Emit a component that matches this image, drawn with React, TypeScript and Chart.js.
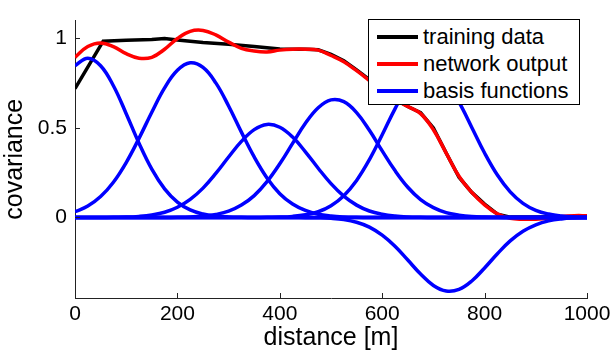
import React, { useEffect, useRef } from "react";
import { Chart, registerables } from "chart.js";

Chart.register(...registerables);

const DIST = [
  0, 25, 50, 75, 100, 125, 150, 175, 200, 225, 250, 275, 300, 325, 350, 375, 400, 425, 450, 475,
  500, 525, 550, 575, 600, 625, 650, 675, 700, 725, 750, 775, 800, 825, 850, 875, 900, 925, 950, 975, 1000,
];

const TRAIN_X = [0, 55, 100, 150, 175, 200, 250, 300, 350, 400, 450, 475, 500, 525, 550, 575, 600, 625, 650, 675, 700, 725, 750, 775, 800, 825, 850, 900, 950, 1000];
const TRAIN_Y = [0.72, 0.985, 0.99, 0.995, 1.0, 0.992, 0.978, 0.968, 0.955, 0.942, 0.94, 0.937, 0.912, 0.875, 0.825, 0.77, 0.71, 0.66, 0.62, 0.585, 0.5, 0.36, 0.225, 0.14, 0.075, 0.018, 0.002, 0.002, 0.004, 0.006];

const NET_OUT = [
  0.895, 0.955, 0.975, 0.955, 0.915, 0.89, 0.895, 0.94, 1.0, 1.04, 1.045, 1.02, 0.98, 0.945, 0.93, 0.925, 0.935, 0.94, 0.94, 0.935,
  0.905, 0.87, 0.82, 0.765, 0.71, 0.66, 0.62, 0.58, 0.49, 0.36, 0.23, 0.14, 0.07, 0.02, -0.005, -0.01, -0.01, -0.005, 0.005, 0.01, 0.01,
];

const BASIS_1 = [0.848, 0.89, 0.848, 0.736, 0.58, 0.415, 0.27, 0.16, 0.086, 0.042, 0.019, 0.008, 0.003, 0.001, 0, 0, 0, 0, 0, 0, 0, 0, 0, 0, 0, 0, 0, 0, 0, 0, 0, 0, 0, 0, 0, 0, 0, 0, 0, 0, 0];
const BASIS_2 = [0.032, 0.064, 0.117, 0.197, 0.307, 0.442, 0.588, 0.724, 0.822, 0.864, 0.838, 0.752, 0.623, 0.477, 0.338, 0.221, 0.133, 0.075, 0.039, 0.018, 0.008, 0.003, 0.001, 0, 0, 0, 0, 0, 0, 0, 0, 0, 0, 0, 0, 0, 0, 0, 0, 0, 0];
const BASIS_3 = [0, 0, 0, 0.001, 0.002, 0.006, 0.014, 0.029, 0.057, 0.101, 0.164, 0.246, 0.338, 0.425, 0.491, 0.52, 0.504, 0.449, 0.367, 0.275, 0.189, 0.119, 0.069, 0.036, 0.018, 0.008, 0.003, 0.001, 0, 0, 0, 0, 0, 0, 0, 0, 0, 0, 0, 0, 0];
const BASIS_4 = [0, 0, 0, 0, 0, 0, 0, 0, 0.001, 0.003, 0.007, 0.017, 0.035, 0.069, 0.122, 0.2, 0.3, 0.414, 0.526, 0.613, 0.657, 0.647, 0.586, 0.487, 0.372, 0.262, 0.169, 0.1, 0.055, 0.027, 0.013, 0.005, 0.002, 0.001, 0, 0, 0, 0, 0, 0, 0];
const BASIS_5 = [0, 0, 0, 0, 0, 0, 0, 0, 0, 0, 0, 0, 0, 0, 0, 0.001, 0.002, 0.006, 0.015, 0.032, 0.066, 0.122, 0.207, 0.323, 0.462, 0.607, 0.73, 0.806, 0.815, 0.757, 0.644, 0.503, 0.36, 0.237, 0.143, 0.079, 0.04, 0.019, 0.008, 0.003, 0.001];
const BASIS_6 = [0, 0, 0, 0, 0, 0, 0, 0, 0, 0, 0, 0, 0, 0, 0, 0, 0, 0, -0.001, -0.002, -0.005, -0.012, -0.027, -0.054, -0.099, -0.161, -0.238, -0.316, -0.38, -0.411, -0.402, -0.355, -0.282, -0.203, -0.131, -0.077, -0.041, -0.019, -0.008, -0.003, -0.001];
const BASIS_7 = [0, 0, 0, 0, 0, 0, 0, 0, 0, 0, 0, 0, 0, 0, 0, 0, 0, 0, 0, 0, 0, 0, 0, 0, 0, 0, 0, 0, 0, 0, 0, 0, 0, 0, 0, 0, 0, 0, 0, 0, 0];

const BASIS = [BASIS_1, BASIS_2, BASIS_3, BASIS_4, BASIS_5, BASIS_6, BASIS_7];

const X_TICKS = [0, 200, 400, 600, 800, 1000];
const Y_TICKS = [0, 0.5, 1];
const SERIES_NAMES = ["training data", "network output", "basis functions"];
const SERIES_COLORS = ["#000000", "#ff0000", "#0000ff"];

const FONT = "'Liberation Sans', Arial, Helvetica, sans-serif";

const insideTicks = {
  id: "insideTicks",
  afterDatasetsDraw(chart: any) {
    const { ctx, scales } = chart;
    const xs = scales.x;
    const ys = scales.y;
    ctx.save();
    ctx.strokeStyle = "#222";
    ctx.lineWidth = 1;
    ctx.beginPath();
    for (const t of xs.ticks) {
      const px = Math.round(xs.getPixelForValue(t.value)) + 0.5;
      ctx.moveTo(px, ys.bottom);
      ctx.lineTo(px, ys.bottom - 5);
    }
    for (const t of ys.ticks) {
      const py = Math.round(ys.getPixelForValue(t.value)) + 0.5;
      ctx.moveTo(xs.left, py);
      ctx.lineTo(xs.left + 5, py);
    }
    ctx.stroke();
    ctx.restore();
  },
};

export default function App() {
  const ref = useRef<HTMLCanvasElement | null>(null);

  useEffect(() => {
    if (!ref.current) return;
    const datasets: any[] = [];
    BASIS.forEach((b) => {
      datasets.push({
        label: SERIES_NAMES[2],
        data: DIST.map((x, i) => ({ x, y: b[i] })),
        borderColor: SERIES_COLORS[2],
        borderWidth: 3.5,
        pointRadius: 0,
        tension: 0.4,
        fill: false,
        order: 0,
      });
    });
    datasets.push({
      label: SERIES_NAMES[1],
      data: DIST.map((x, i) => ({ x, y: NET_OUT[i] })),
      borderColor: SERIES_COLORS[1],
      borderWidth: 3.5,
      pointRadius: 0,
      tension: 0.4,
      fill: false,
      order: 1,
    });
    datasets.push({
      label: SERIES_NAMES[0],
      data: TRAIN_X.map((x, i) => ({ x, y: TRAIN_Y[i] })),
      borderColor: SERIES_COLORS[0],
      borderWidth: 3.5,
      pointRadius: 0,
      tension: 0,
      fill: false,
      order: 2,
    });

    const chart = new Chart(ref.current, {
      type: "line",
      data: { datasets },
      plugins: [insideTicks],
      options: {
        animation: false,
        responsive: false,
        devicePixelRatio: 1,
        layout: { padding: { top: 12, right: 28, left: 0, bottom: 0 } },
        plugins: { legend: { display: false }, tooltip: { enabled: false } },
        scales: {
          x: {
            type: "linear",
            min: 0,
            max: 1000,
            afterBuildTicks: (s: any) => {
              s.ticks = X_TICKS.map((v) => ({ value: v }));
            },
            afterFit: (s: any) => {
              s.height = 55;
            },
            grid: { display: true, drawOnChartArea: false, drawTicks: false },
            border: { display: true, color: "#222", width: 1 },
            ticks: {
              color: "#000",
              font: { family: FONT, size: 21 },
              padding: 4,
              maxRotation: 0,
              callback: (v: any) => String(v),
            },
            title: {
              display: true,
              text: "distance [m]",
              color: "#000",
              font: { family: FONT, size: 25 },
              padding: { top: 0, bottom: 0 },
            },
          },
          y: {
            type: "linear",
            min: -0.45,
            max: 1.1,
            afterBuildTicks: (s: any) => {
              s.ticks = Y_TICKS.map((v) => ({ value: v }));
            },
            afterFit: (s: any) => {
              s.width = 75;
            },
            grid: { display: true, drawOnChartArea: false, drawTicks: false },
            border: { display: true, color: "#222", width: 1 },
            ticks: {
              color: "#000",
              font: { family: FONT, size: 21 },
              padding: 8,
              callback: (v: any) => String(v),
            },
            title: {
              display: true,
              text: "covariance",
              color: "#000",
              font: { family: FONT, size: 25 },
              padding: { top: 0, bottom: 0 },
            },
          },
        },
      },
    });
    return () => chart.destroy();
  }, []);

  return (
    <div style={{ position: "fixed", left: 0, top: 0, width: 615, height: 353, background: "#fff" }}>
      <canvas ref={ref} width={615} height={353} style={{ display: "block" }} />
      <div
        style={{
          position: "absolute",
          left: 368,
          top: 19,
          width: 212,
          height: 86,
          boxSizing: "border-box",
          border: "1px solid #000",
          background: "#fff",
          fontFamily: FONT,
          fontSize: 22,
          color: "#000",
          padding: "3px 0 0 8px",
        }}
      >
        {SERIES_NAMES.map((name, i) => (
          <div key={name} style={{ display: "flex", alignItems: "center", height: 27, lineHeight: "27px", whiteSpace: "nowrap" }}>
            <span style={{ display: "inline-block", width: 41, height: 4, background: SERIES_COLORS[i], marginRight: 5 }} />
            <span>{name}</span>
          </div>
        ))}
      </div>
    </div>
  );
}
